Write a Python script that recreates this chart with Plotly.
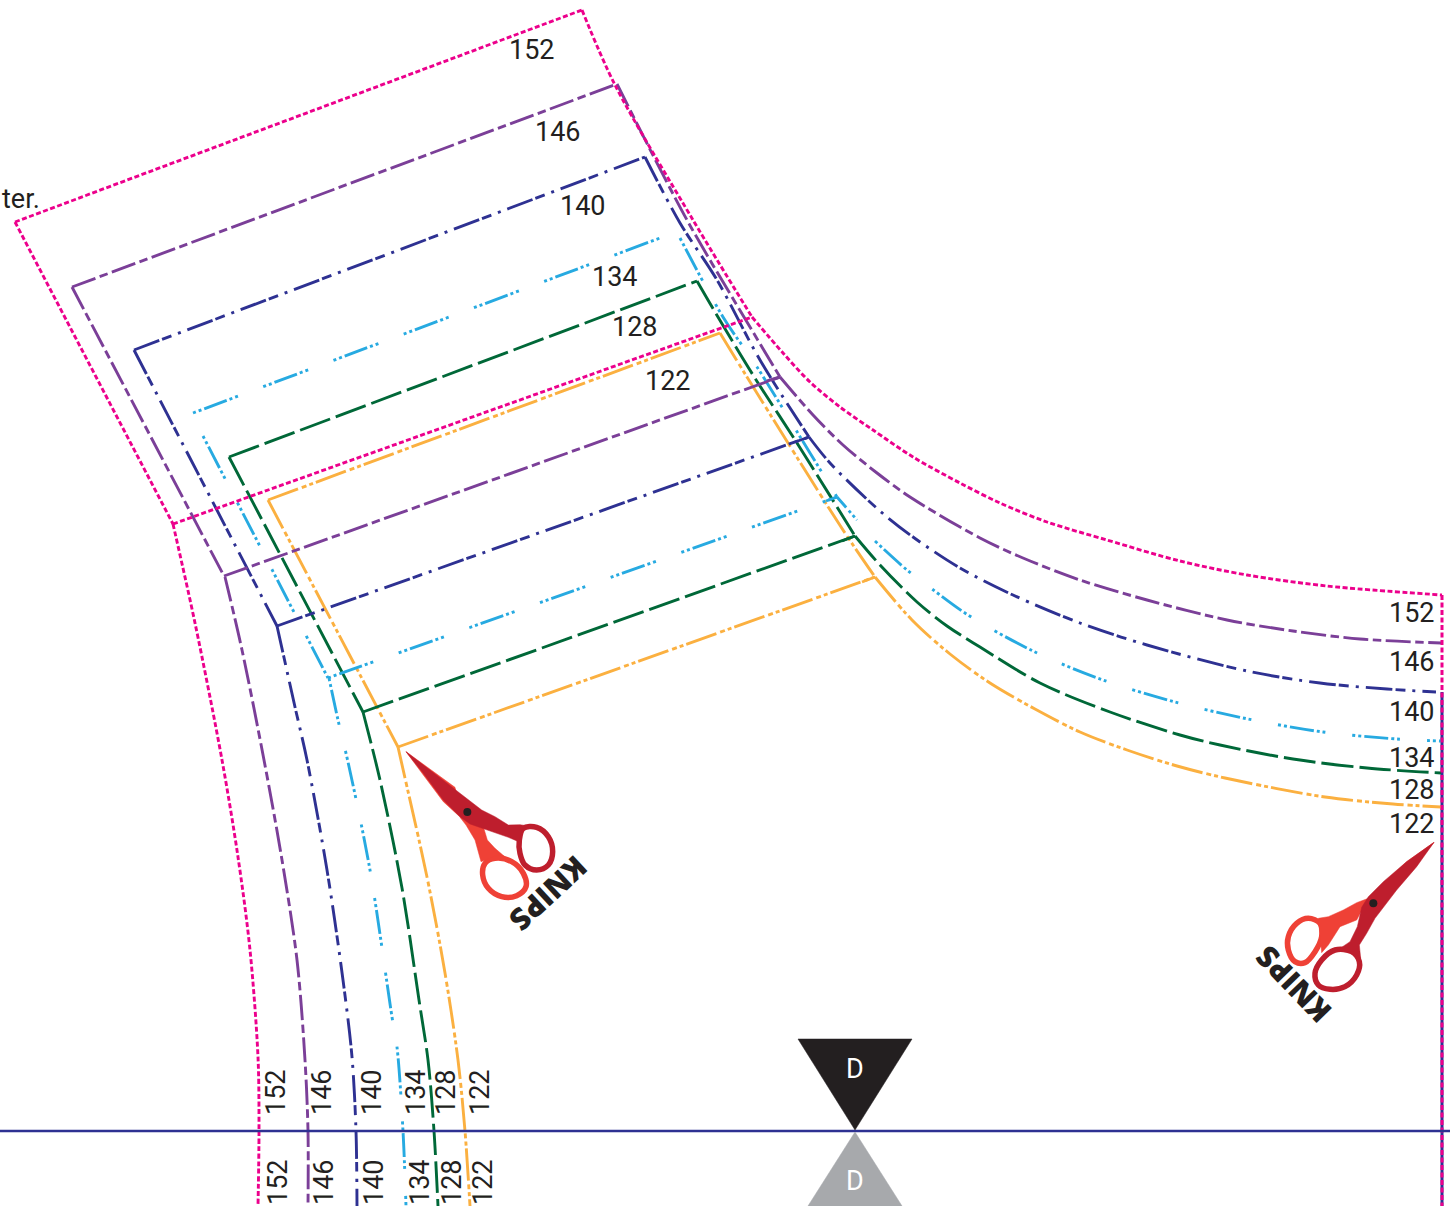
import plotly.graph_objects as go

# ---------- sizes ----------
SIZES = ["152", "146", "140", "134", "128", "122"]
COLORS = {"152": "#ec008c", "146": "#7b3f98", "140": "#2e3192",
          "134": "#27aae1", "128": "#006838", "122": "#fbb040"}
DASHES = {"152": "5px,2.5px", "146": "25px,4.5px,8.5px,4.5px", "140": "27px,3px,10px,7px,3px,7px",
          "134": "3px,3px,3px,3px,24px,3px,3px,3px,3px,27px", "128": "32px,6px",
          "122": "32px,4px,5px,3px,4px,3px"}

# ---------- outline pieces (page coordinates) ----------
TOP = {"152": [(15, 222), (582, 10)], "146": [(72, 287), (617, 84)], "140": [(134, 350), (645, 157)],
       "134": [(193, 413), (660, 238)], "128": [(229, 457), (697, 281)], "122": [(268, 500), (720, 333)]}
SIDE = {"152": [(15, 222), (173, 524)], "146": [(72, 287), (224, 576)], "140": [(134, 350), (277, 626)],
        "134": [(203, 436), (328, 678)], "128": [(229, 457), (363, 712)], "122": [(268, 500), (398, 747)]}
INNER = {"152": [(173, 524), (752, 317)], "146": [(224, 576), (780, 377)], "140": [(277, 626), (809, 437)],
         "134": [(328, 678), (837, 497)], "128": [(363, 712), (855, 536)], "122": [(398, 747), (875, 577)]}
CORNER_TICKS = {"146": [(767, 381), (780, 377)], "140": [(795, 442), (809, 437)],
                "134": [(826, 501), (837, 497)], "128": [(842, 541), (855, 536)], "122": [(862, 582), (875, 577)]}
RIGHT_UP = {"152": [(582, 10), (615, 85), (693, 220), (752, 317)],
            "146": [(617, 84), (687, 220), (750, 327), (780, 377)],
            "140": [(645, 157), (680, 223), (717, 280), (760, 360), (809, 437)],
            "134": [(680, 238), (723, 317), (757, 367), (810, 453), (837, 497)],
            "128": [(697, 281), (715, 312), (753, 375), (797, 443), (855, 536)],
            "122": [(720, 333), (747, 377), (788, 443), (843, 530), (875, 577)]}
ARMHOLE = {"152": [(752, 317), (783, 353), (810, 382), (840, 407), (873, 430), (913, 457), (960, 483), (1000, 503), (1047, 522), (1107, 540), (1180, 561), (1247, 575), (1327, 586), (1442, 595)],
           "146": [(780, 377), (813, 415), (843, 445), (877, 473), (910, 497), (980, 538), (1023, 558), (1080, 580), (1147, 600), (1227, 620), (1293, 631), (1360, 639), (1441, 643)],
           "140": [(809, 437), (830, 463), (880, 511), (913, 537), (960, 568), (1013, 595), (1080, 623), (1147, 645), (1247, 671), (1320, 683), (1387, 689), (1436, 692)],
           "134": [(875, 541), (907, 570), (932, 589), (968, 615), (1035, 652), (1103, 680), (1175, 702), (1248, 719), (1323, 732), (1397, 739), (1441, 741)],
           "128": [(855, 536), (880, 565), (917, 602), (947, 626), (980, 647), (1040, 683), (1110, 712), (1180, 735), (1220, 745), (1293, 759), (1367, 768), (1441, 773)],
           "122": [(875, 577), (912, 620), (950, 654), (990, 683), (1035, 709), (1080, 732), (1127, 750), (1177, 766), (1225, 778), (1325, 797), (1393, 804), (1441, 807)]}
CYAN_STUB = [(837, 497), (857, 520)]
LOWER = {"152": [(173, 524), (195, 623), (222, 760), (238, 857), (250, 950), (258, 1057), (259, 1131), (258, 1206)],
         "146": [(225, 577), (242, 650), (264, 760), (282, 860), (297, 960), (305, 1060), (308, 1131), (308, 1206)],
         "140": [(277, 626), (295, 707), (307, 760), (327, 870), (343, 980), (352, 1057), (356, 1131), (357, 1206)],
         "134": [(329, 678), (338, 720), (348, 762), (370, 870), (392, 1017), (397, 1047), (403, 1131), (406, 1206)],
         "128": [(363, 712), (380, 780), (402, 888), (419, 1000), (428, 1060), (434, 1131), (438, 1206)],
         "122": [(398, 747), (405, 778), (427, 877), (445, 973), (458, 1060), (465, 1131), (470, 1206)]}
FOLD_X = 1442
FOLD_START = {"140": 692, "152": 595}
CENTER_Y = 1131
PAGE_W, PAGE_H = 1450, 1206

# ---------- labels ----------
LABELS_TOP = {"152": (532, 50), "146": (558, 132), "140": (583, 206), "134": (615, 277), "128": (635, 327), "122": (668, 381)}
LABELS_RIGHT = {"152": (1412, 613), "146": (1412, 662), "140": (1412, 712), "134": (1412, 758), "128": (1412, 790), "122": (1412, 824)}
LABELS_UP = {"152": (276, 1092), "146": (322, 1092), "140": (372, 1092), "134": (416, 1092), "128": (446, 1092), "122": (480, 1092)}
LABELS_DOWN = {"152": (278, 1182), "146": (324, 1182), "140": (374, 1182), "134": (420, 1182), "128": (452, 1182), "122": (483, 1182)}

# ---------- notch triangles ----------
TRI_BLACK = [(798, 1039), (912, 1039), (855, 1130), (798, 1039)]
TRI_GRAY = [(855, 1132), (808, 1206), (902, 1206), (855, 1132)]

# ---------- scissors, crop coordinates x3 with an origin ----------
S1_ORIGIN = (380, 730)
S1_LIGHT_BLADE = [(78, 65), (150, 118), (225, 172), (250, 270), (190, 215), (130, 135), (78, 65)]
S1_LIGHT_ARM = [(240, 262), (258, 285), (285, 330), (303, 395), (345, 378), (372, 378), (345, 355), (322, 330), (310, 290), (240, 262)]
S1_DARK_ARM = [(78, 65), (150, 120), (220, 175), (270, 212), (305, 240), (345, 260), (385, 285), (420, 284), (445, 288), (425, 302), (416, 335),
               (385, 322), (345, 308), (310, 295), (270, 282), (240, 260), (190, 210), (130, 130), (78, 65)]
S1_DARK_RING = [(430, 295), (470, 292), (505, 320), (518, 365), (505, 405), (470, 420), (435, 405), (420, 370), (418, 330), (430, 295)]
S1_LIGHT_RING = [(345, 385), (395, 395), (430, 430), (438, 470), (410, 497), (365, 500), (325, 475), (308, 435), (315, 400), (345, 385)]
S1_SCREW = (262, 246)

S2_ORIGIN = (1240, 830)
S2_LIGHT_BLADE = [(582, 37), (520, 115), (440, 190), (380, 215), (430, 160), (500, 95), (582, 37)]
S2_LIGHT_ARM = [(385, 205), (350, 218), (310, 240), (265, 260), (235, 265), (245, 368), (265, 345), (300, 290), (350, 270), (370, 235), (385, 205)]
S2_DARK_ARM = [(582, 37), (500, 95), (430, 155), (385, 200), (365, 232), (352, 290), (330, 335), (290, 362), (340, 365), (362, 385), (358, 345), (380, 310), (405, 265), (470, 180), (530, 110), (582, 37)]
S2_DARK_RING = [(285, 360), (335, 365), (358, 395), (350, 435), (315, 470), (270, 478), (235, 465), (225, 430), (245, 390), (285, 360)]
S2_LIGHT_RING = [(205, 265), (240, 280), (245, 320), (225, 365), (195, 398), (165, 395), (145, 360), (145, 320), (170, 280), (205, 265)]
S2_SCREW = (400, 220)

RED_DARK = "#be1e2d"
RED_LIGHT = "#ef4136"
INK = "#231f20"
LABEL_FONT = "Roboto"
LINE_W = 2.9

fig = go.Figure()


def add_line(points, color, dash, width=LINE_W, shape="linear"):
    xs, ys = zip(*points)
    fig.add_trace(go.Scatter(x=xs, y=ys, mode="lines", hoverinfo="skip",
                             line=dict(color=color, width=width, dash=dash, shape=shape, smoothing=0.9)))


def add_fill(points, color):
    xs, ys = zip(*points)
    fig.add_trace(go.Scatter(x=xs, y=ys, mode="lines", fill="toself", fillcolor=color, hoverinfo="skip",
                             line=dict(color=color, width=0.5)))


def crop_to_page(points, origin):
    return [(origin[0] + px / 3, origin[1] + py / 3) for px, py in points]


def add_ring(points, origin, color):
    xs, ys = zip(*crop_to_page(points, origin))
    fig.add_trace(go.Scatter(x=xs, y=ys, mode="lines", fill="toself", fillcolor="white", hoverinfo="skip",
                             line=dict(color=color, width=5.5, shape="spline", smoothing=1.0)))


# fold lines under the pink one
add_line([(FOLD_X, FOLD_START["140"]), (FOLD_X, PAGE_H)], COLORS["140"], "solid", 3)

for size in reversed(SIZES):
    c, d = COLORS[size], DASHES[size]
    add_line(TOP[size], c, d)
    add_line(SIDE[size], c, d)
    add_line(INNER[size], c, d)
    add_line(RIGHT_UP[size], c, d, shape="spline")
    add_line(ARMHOLE[size], c, d, shape="spline")
    add_line(LOWER[size], c, d, shape="spline")
    if size in CORNER_TICKS:
        add_line(CORNER_TICKS[size], c, "solid")
add_line(CYAN_STUB, COLORS["134"], "14px,4px,3px,3px,3px,3px")

add_line([(FOLD_X, FOLD_START["152"]), (FOLD_X, PAGE_H)], COLORS["152"], DASHES["152"], 3)

# centre line
add_line([(0, CENTER_Y), (PAGE_W, CENTER_Y)], COLORS["140"], "solid", 2.4)

# triangles
add_fill(TRI_BLACK, INK)
add_fill(TRI_GRAY, "#a7a9ac")

# scissors 1
add_ring(S1_LIGHT_RING, S1_ORIGIN, RED_LIGHT)
add_fill(crop_to_page(S1_LIGHT_BLADE, S1_ORIGIN), RED_LIGHT)
add_fill(crop_to_page(S1_LIGHT_ARM, S1_ORIGIN), RED_LIGHT)
add_ring(S1_DARK_RING, S1_ORIGIN, RED_DARK)
add_fill(crop_to_page(S1_DARK_ARM, S1_ORIGIN), RED_DARK)

# scissors 2
add_ring(S2_LIGHT_RING, S2_ORIGIN, RED_LIGHT)
add_fill(crop_to_page(S2_LIGHT_BLADE, S2_ORIGIN), RED_LIGHT)
add_fill(crop_to_page(S2_LIGHT_ARM, S2_ORIGIN), RED_LIGHT)
add_ring(S2_DARK_RING, S2_ORIGIN, RED_DARK)
add_fill(crop_to_page(S2_DARK_ARM, S2_ORIGIN), RED_DARK)

# screws
fig.add_trace(go.Scatter(
    x=[S1_ORIGIN[0] + S1_SCREW[0] / 3, S2_ORIGIN[0] + S2_SCREW[0] / 3],
    y=[S1_ORIGIN[1] + S1_SCREW[1] / 3, S2_ORIGIN[1] + S2_SCREW[1] / 3],
    mode="markers", hoverinfo="skip", marker=dict(color=INK, size=8)))

annotations = []


def label(text, pos, angle=0, size=27, color=INK, family=LABEL_FONT, weight=None):
    font = dict(family=family, size=size, color=color)
    if weight:
        font["weight"] = weight
    annotations.append(dict(
        x=pos[0], y=pos[1], xref="x", yref="y", text=text, showarrow=False,
        textangle=angle, xanchor="center", yanchor="middle", font=font))


for size in SIZES:
    label(size, LABELS_TOP[size])
    label(size, LABELS_RIGHT[size])
    label(size, LABELS_UP[size], angle=-90)
    label(size, LABELS_DOWN[size], angle=-90)
label("ter.", (21, 199))
label("D", (855, 1069), color="white")
label("D", (855, 1181), color="white")
label("KNIPS", (549, 894), angle=137, size=30, family="Open Sans", weight=800)
label("KNIPS", (1293, 985), angle=-134, size=30, family="Open Sans", weight=800)

fig.update_layout(
    width=PAGE_W, height=PAGE_H, margin=dict(l=0, r=0, t=0, b=0),
    paper_bgcolor="white", plot_bgcolor="white", showlegend=False,
    annotations=annotations,
    xaxis=dict(range=[0, PAGE_W], visible=False, fixedrange=True),
    yaxis=dict(range=[PAGE_H, 0], visible=False, fixedrange=True),
)
fig.write_html("out.html", config={"displayModeBar": False},
               post_script="document.body.style.margin='0';document.body.style.overflow='hidden';")
